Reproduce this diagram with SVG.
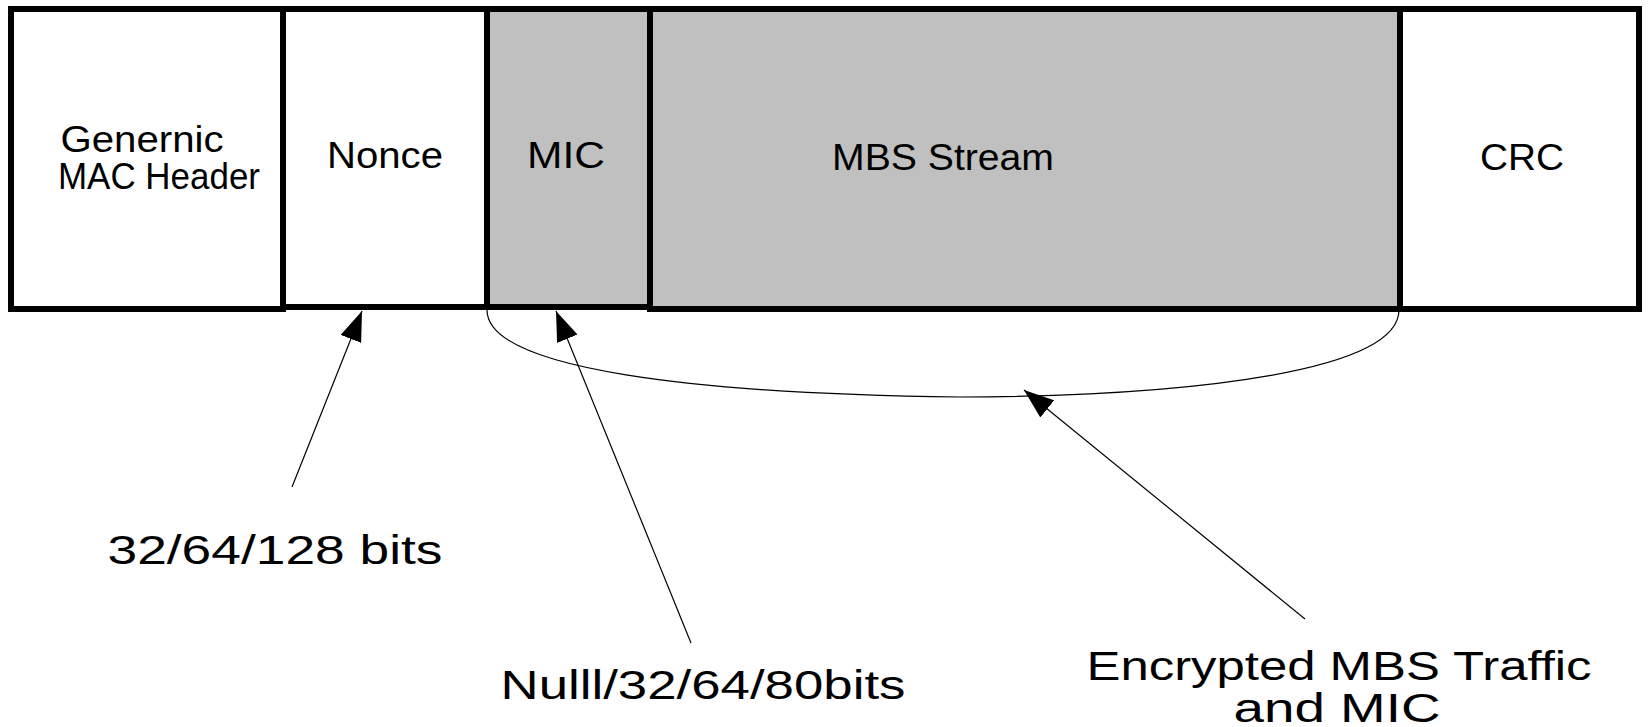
<svg xmlns="http://www.w3.org/2000/svg" width="1649" height="727" viewBox="0 0 1649 727">
  <style>
    .field { stroke: #000; stroke-width: 6; }
    .plain { fill: #fff; }
    .enc { fill: #c0c0c0; }
    .lbl { font-family: "Liberation Sans", Arial, sans-serif; font-size: 36px; fill: #000; text-anchor: middle; }
    .note { font-family: "Liberation Sans", Arial, sans-serif; font-size: 40px; fill: #000; text-anchor: middle; }
    .conn { fill: none; stroke: #000; stroke-width: 1.2; }
  </style>
  <defs>
    <marker id="tri" markerUnits="userSpaceOnUse" markerWidth="32" markerHeight="22" refX="30" refY="11" orient="auto">
      <path d="M0,0 L30,11 L0,22 Z" fill="#000"/>
    </marker>
  </defs>

  <rect x="0" y="0" width="1649" height="727" fill="#fff"/>

  <!-- frame fields -->
  <g id="header">
    <rect class="field plain" x="11" y="9" width="272" height="300"/>
    <text class="lbl" x="142" y="152" textLength="163" lengthAdjust="spacingAndGlyphs">Genernic</text>
    <text class="lbl" x="159" y="189" textLength="202" lengthAdjust="spacingAndGlyphs">MAC Header</text>
  </g>
  <g id="nonce">
    <rect class="field plain" x="283" y="9" width="204" height="298"/>
    <text class="lbl" x="385" y="168" textLength="116" lengthAdjust="spacingAndGlyphs">Nonce</text>
  </g>
  <g id="mic">
    <rect class="field enc" x="487" y="9" width="163" height="298"/>
    <text class="lbl" x="566" y="168" textLength="78" lengthAdjust="spacingAndGlyphs">MIC</text>
  </g>
  <g id="mbs-stream">
    <rect class="field enc" x="650" y="9" width="750" height="300"/>
    <text class="lbl" x="943" y="170" textLength="222" lengthAdjust="spacingAndGlyphs">MBS Stream</text>
  </g>
  <g id="crc">
    <rect class="field plain" x="1400" y="9" width="239" height="300"/>
    <line x1="1400" y1="9" x2="1400" y2="309" stroke="#000" stroke-width="3"/>
    <text class="lbl" x="1522" y="170" textLength="84" lengthAdjust="spacingAndGlyphs">CRC</text>
  </g>

  <!-- connectors -->
  <g id="connectors">
    <path class="conn" d="M487,310 C487,370 700,394 960,397 C1200,396 1399,370 1399,310"/>
    <line class="conn" x1="292" y1="487" x2="362" y2="311" marker-end="url(#tri)"/>
    <line class="conn" x1="691" y1="643" x2="556" y2="311" marker-end="url(#tri)"/>
    <line class="conn" x1="1305" y1="619" x2="1024" y2="390" marker-end="url(#tri)"/>
  </g>

  <!-- size notes -->
  <g id="note-nonce">
    <text class="note" x="275" y="564" textLength="335" lengthAdjust="spacingAndGlyphs">32/64/128 bits</text>
  </g>
  <g id="note-mic">
    <text class="note" x="703" y="699" textLength="405" lengthAdjust="spacingAndGlyphs">Nulll/32/64/80bits</text>
  </g>
  <g id="note-encrypted">
    <text class="note" x="1339" y="680" textLength="505" lengthAdjust="spacingAndGlyphs">Encrypted MBS Traffic</text>
    <text class="note" x="1337" y="722" textLength="207" lengthAdjust="spacingAndGlyphs">and MIC</text>
  </g>
</svg>
